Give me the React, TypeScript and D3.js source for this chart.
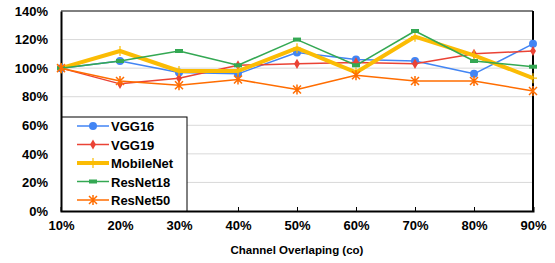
import React, { useEffect, useRef } from 'react';
import { select, scalePoint, scaleLinear, line, axisBottom, axisLeft, symbol, symbolCircle, symbolDiamond, symbolCross, symbolX } from 'd3';

const categories = ['10%', '20%', '30%', '40%', '50%', '60%', '70%', '80%', '90%'];
const yTicks = [0, 20, 40, 60, 80, 100, 120, 140];

const vgg16 = [100, 105, 97, 96, 111, 106, 105, 96, 117];
const vgg19 = [100, 89, 93, 102, 103, 104, 103, 110, 112];
const mobileNet = [100, 112, 98, 98, 114, 97, 122, 109, 93];
const resNet18 = [100, 105, 112, 102, 120, 102, 126, 105, 101];
const resNet50 = [100, 91, 88, 92, 85, 95, 91, 91, 84];

const series = [
  { name: 'VGG16', values: vgg16, color: '#4285F4', width: 1.5, marker: 'circle' },
  { name: 'VGG19', values: vgg19, color: '#EA4335', width: 1.5, marker: 'diamond' },
  { name: 'MobileNet', values: mobileNet, color: '#FBBC04', width: 4, marker: 'plus' },
  { name: 'ResNet18', values: resNet18, color: '#34A853', width: 1.5, marker: 'dash' },
  { name: 'ResNet50', values: resNet50, color: '#FF6D01', width: 1.5, marker: 'star' },
];

const W = 555;
const H = 263;
const margin = { top: 11, right: 22, bottom: 52, left: 61 };

function drawMarker(g, type, x, y, color) {
  if (type === 'circle') {
    g.append('circle').attr('cx', x).attr('cy', y).attr('r', 4).attr('fill', color);
  } else if (type === 'diamond') {
    g.append('path').attr('transform', `translate(${x},${y})`)
      .attr('d', symbol(symbolDiamond, 30)()).attr('fill', color);
  } else if (type === 'plus') {
    g.append('path').attr('transform', `translate(${x},${y})`)
      .attr('d', 'M-4,0H4M0,-5V5').attr('stroke', color).attr('stroke-width', 1.2);
  } else if (type === 'dash') {
    g.append('rect').attr('x', x - 4).attr('y', y - 2).attr('width', 8).attr('height', 4).attr('fill', color);
  } else if (type === 'star') {
    g.append('path').attr('transform', `translate(${x},${y})`)
      .attr('d', 'M-4,-4L4,4M-4,4L4,-4M0,-5V5').attr('stroke', color).attr('stroke-width', 1.5);
  }
}

function App() {
  const svgRef = useRef(null);

  useEffect(() => {
    const svg = select(svgRef.current);
    svg.selectAll('*').remove();

    const iw = W - margin.left - margin.right;
    const ih = H - margin.top - margin.bottom;

    const x = scalePoint().domain(categories).range([0, iw]);
    const y = scaleLinear().domain([0, 140]).range([ih, 0]);

    const g = svg.append('g').attr('transform', `translate(${margin.left},${margin.top})`);

    // gridlines
    g.selectAll('.grid')
      .data(yTicks.filter((t) => t > 0 && t < 140))
      .join('line')
      .attr('x1', 0).attr('x2', iw)
      .attr('y1', (d) => y(d)).attr('y2', (d) => y(d))
      .attr('stroke', '#d9d9d9').attr('stroke-width', 1);

    // box
    g.append('line').attr('x1', 0).attr('x2', iw).attr('y1', 0).attr('y2', 0).attr('stroke', '#000').attr('stroke-width', 1);
    g.append('line').attr('x1', iw).attr('x2', iw).attr('y1', 0).attr('y2', ih).attr('stroke', '#000').attr('stroke-width', 2);

    // axes
    const xAxis = axisBottom(x).tickSize(-4).tickPadding(10);
    const xg = g.append('g').attr('transform', `translate(0,${ih})`).call(xAxis);
    xg.select('.domain').attr('stroke-width', 2);
    xg.selectAll('text').attr('font-size', 13).attr('font-weight', 'bold').attr('font-family', 'Liberation Sans, Arial, sans-serif').attr('fill', '#000');

    const yAxis = axisLeft(y).tickValues(yTicks).tickSize(0).tickPadding(13).tickFormat((d) => `${d}%`);
    const yg = g.append('g').call(yAxis);
    yg.select('.domain').attr('stroke-width', 2);
    yg.selectAll('text').attr('font-size', 13).attr('font-weight', 'bold').attr('font-family', 'Liberation Sans, Arial, sans-serif').attr('fill', '#000');

    // lines
    const lineGen = line().x((d, i) => x(categories[i])).y((d) => y(d));
    series.forEach((s) => {
      g.append('path')
        .datum(s.values)
        .attr('d', lineGen)
        .attr('fill', 'none')
        .attr('stroke', s.color)
        .attr('stroke-width', s.width)
        .attr('stroke-linejoin', 'round');
      const mg = g.append('g');
      s.values.forEach((v, i) => drawMarker(mg, s.marker, x(categories[i]), y(v), s.color));
    });

    // legend
    const lg = svg.append('g').attr('transform', 'translate(62,117)');
    lg.append('rect').attr('x', 0).attr('y', 0).attr('width', 125).attr('height', 94)
      .attr('fill', '#fff').attr('stroke', '#000').attr('stroke-width', 1);
    series.forEach((s, i) => {
      const yy = 9 + i * 18.5;
      lg.append('line').attr('x1', 15).attr('x2', 47).attr('y1', yy).attr('y2', yy)
        .attr('stroke', s.color).attr('stroke-width', s.width);
      drawMarker(lg, s.marker, 31, yy, s.color);
      lg.append('text').attr('x', 49).attr('y', yy + 5)
        .attr('font-size', 13).attr('font-weight', 'bold')
        .attr('font-family', 'Liberation Sans, Arial, sans-serif')
        .text(s.name);
    });

    // axis title
    svg.append('text')
      .attr('x', margin.left + iw / 2).attr('y', 254)
      .attr('text-anchor', 'middle')
      .attr('font-size', 11.5).attr('font-weight', 'bold')
      .attr('font-family', 'Liberation Sans, Arial, sans-serif')
      .text('Channel Overlaping (co)');
  }, []);

  return (
    <svg ref={svgRef} width={W} height={H} style={{ position: 'absolute', left: 0, top: 0, background: '#fff' }} />
  );
}

export default App;
